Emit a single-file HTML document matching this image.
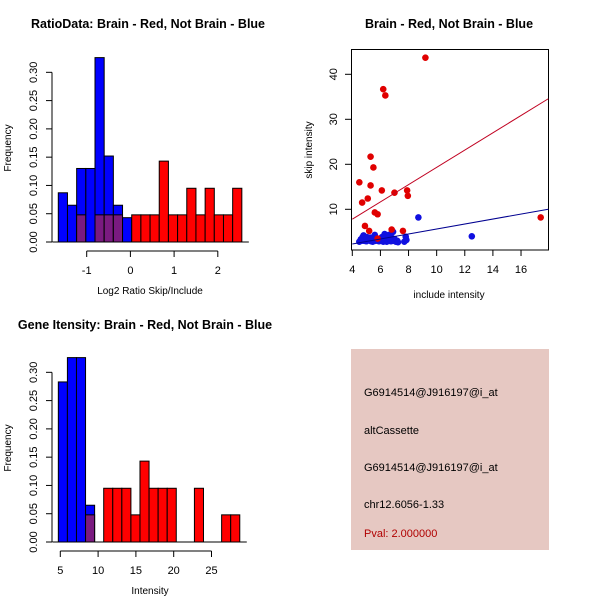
<!DOCTYPE html>
<html><head><meta charset="utf-8"><style>
body{margin:0;background:#fff;}
svg text{font-family:"Liberation Sans",sans-serif;}
</style></head><body>
<svg id="s" width="600" height="600" xmlns="http://www.w3.org/2000/svg">
<rect x="351" y="349" width="198" height="201" fill="#e6c8c2"/>
<text x="364" y="396" font-size="11">G6914514@J916197@i_at</text>
<text x="364" y="434" font-size="11">altCassette</text>
<text x="364" y="471" font-size="11">G6914514@J916197@i_at</text>
<text x="364" y="508" font-size="11">chr12.6056-1.33</text>
<text x="364" y="537" font-size="11" fill="#b00000">Pval: 2.000000</text>
</svg>
<script>
// Ratio histogram
const ratioBinStart=-1.65, ratioBinWidth=0.21;
const ratioBlue=[0.087,0.065,0.13,0.13,0.326,0.152,0.065,0.043,0,0,0,0,0,0,0,0,0,0,0,0];
const ratioRed=[0,0,0.048,0,0.048,0.048,0.048,0,0.048,0.048,0.048,0.143,0.048,0.048,0.095,0.048,0.095,0.048,0.048,0.095];
const ratioTicks=[-1,0,1,2];
// Intensity histogram
const intBinStart=4.74, intBinWidth=1.2;
const intBlue=[0.283,0.326,0.326,0.065,0,0,0,0,0,0,0,0,0,0,0,0,0,0,0,0];
const intRed=[0,0,0,0.048,0,0.095,0.095,0.095,0.048,0.143,0.095,0.095,0.095,0,0,0.095,0,0,0.048,0.048];
const intTicks=[5,10,15,20,25];
const freqTicks=[0,0.05,0.10,0.15,0.20,0.25,0.30];
// Scatter
const redX=[9.2,6.2,6.35,5.3,5.5,4.5,5.3,6.1,7,7.9,7.95,5.1,4.7,5.6,5.8,4.9,5.2,6.8,7.6,5.8,17.4];
const redY=[43.7,36.7,35.3,21.7,19.3,16,15.3,14.2,13.7,14.2,13,12.4,11.5,9.3,8.9,6.3,5.2,5.5,5.2,3.5,8.2];
const blueX=[4.5,4.6,4.7,4.8,4.85,4.9,5.0,5.1,5.2,5.3,5.4,5.5,5.6,5.65,5.7,5.9,6.0,6.1,6.2,6.25,6.3,6.35,6.4,6.5,6.6,6.7,6.8,6.9,7.0,7.1,7.2,7.7,7.8,7.85,8.7,12.5,4.75,5.35,6.45,6.95,4.65,5.05,5.45,5.75,6.15,6.55,6.75,7.25];
const blueY=[2.8,3.3,3.6,4.2,3.0,3.5,2.9,3.4,3.1,3.7,3.2,3.5,4.3,3.0,3.6,2.9,3.3,3.8,2.8,3.1,4.5,3.4,4.0,3.2,4.3,3.0,3.7,5.0,3.4,2.8,3.0,2.8,3.9,3.2,8.2,4.0,3.9,2.9,2.8,3.0,3.0,3.8,2.8,3.4,3.0,3.6,2.9,2.7];
const redFit=[0.12,1.92], blueFit=[0.08,0.554];
const scX=[4,6,8,10,12,14,16], scY=[10,20,30,40];

const s=document.getElementById('s'), NS='http://www.w3.org/2000/svg';
function mk(t,a,txt){const e=document.createElementNS(NS,t);for(const k in a)e.setAttribute(k,a[k]);if(txt!==undefined)e.textContent=txt;s.appendChild(e);return e;}

function hist(o){
  const fx=v=>o.x0+(v-o.v0)*o.k, fy=f=>o.y0-f*565.6;
  mk('text',{x:o.tx,y:o.ty,'font-size':12.5,'font-weight':'bold','text-anchor':'middle'},o.title);
  for(let i=0;i<o.blue.length;i++){
    const a=fx(o.bs+i*o.bw), w=o.bw*o.k;
    const b=o.blue[i], r=o.red[i];
    if(b>0){const e=mk('rect',{x:a,y:fy(b),width:w,height:b*565.6,fill:'#0000ff',stroke:'#000','stroke-width':1});
      }
    if(r>0){const e=mk('rect',{x:a,y:fy(r),width:w,height:r*565.6,fill:b>0?'#7a1a80':'#ff0000',stroke:'#000','stroke-width':1});
      }
  }
  const n=o.blue.length;
  mk('line',{x1:fx(o.bs)-6,x2:fx(o.bs+n*o.bw)+7,y1:o.y0,y2:o.y0,stroke:'#000'});
  mk('line',{x1:52,x2:52,y1:o.y0,y2:fy(0.30),stroke:'#000'});
  freqTicks.forEach(t=>{mk('line',{x1:46,x2:52,y1:fy(t),y2:fy(t),stroke:'#000'});
    const e=mk('text',{x:0,y:0,'font-size':11,'text-anchor':'middle',transform:`translate(37,${fy(t)}) rotate(-90)`},t.toFixed(2));});
  const ya=o.y0+9;
  mk('line',{x1:fx(o.ticks[0]),x2:fx(o.ticks[o.ticks.length-1]),y1:ya,y2:ya,stroke:'#000'});
  o.ticks.forEach(t=>{mk('line',{x1:fx(t),x2:fx(t),y1:ya,y2:ya+6,stroke:'#000'});
    const e=mk('text',{x:fx(t),y:ya+23,'font-size':11,'text-anchor':'middle'},t);});
  mk('text',{x:0,y:0,'font-size':10,'text-anchor':'middle',transform:`translate(11,${o.y0-94}) rotate(-90)`},'Frequency');
  mk('text',{x:o.xlx,y:o.y0+52,'font-size':10,'text-anchor':'middle'},o.xl);
}
hist({p:'ratio',title:'RatioData: Brain - Red, Not Brain - Blue',tx:148,ty:28,x0:86.7,v0:-1,k:43.7,y0:242,
  blue:ratioBlue,red:ratioRed,bs:ratioBinStart,bw:ratioBinWidth,ticks:ratioTicks,xl:'Log2 Ratio Skip/Include',xlx:150});
hist({p:'intensity',title:'Gene Itensity: Brain - Red, Not Brain - Blue',tx:145,ty:329,x0:60.3,v0:5,k:7.56,y0:542,
  blue:intBlue,red:intRed,bs:intBinStart,bw:intBinWidth,ticks:intTicks,xl:'Intensity',xlx:150});

// scatter
const X=v=>352.3+(v-4)*14.06, Y=v=>254.3-v*4.5;
mk('text',{x:449,y:28,'font-size':12.5,'font-weight':'bold','text-anchor':'middle'},'Brain - Red, Not Brain - Blue');
mk('rect',{x:351.5,y:49.5,width:197,height:200.5,fill:'none',stroke:'#000'});
scX.forEach(t=>{mk('line',{x1:X(t),x2:X(t),y1:250,y2:256,stroke:'#000'});
  const e=mk('text',{x:X(t),y:273,'font-size':11,'text-anchor':'middle'},t);});
scY.forEach(t=>{mk('line',{x1:345,x2:351.5,y1:Y(t),y2:Y(t),stroke:'#000'});
  const e=mk('text',{x:0,y:0,'font-size':11,'text-anchor':'middle',transform:`translate(337,${Y(t)}) rotate(-90)`},t);});
mk('text',{x:449,y:298,'font-size':10,'text-anchor':'middle'},'include intensity');
mk('text',{x:0,y:0,'font-size':10,'text-anchor':'middle',transform:'translate(312,150) rotate(-90)'},'skip intensity');
for(let i=0;i<blueX.length;i++){const c=mk('circle',{cx:X(blueX[i]),cy:Y(blueY[i]),r:3.3,fill:'#1010e0'});
  }
for(let i=0;i<redX.length;i++){const c=mk('circle',{cx:X(redX[i]),cy:Y(redY[i]),r:3.3,fill:'#e00000'});
  }
const xe=4+(548.3-352.3)/14.06;
mk('line',{x1:X(4),x2:X(xe),y1:Y(redFit[0]+redFit[1]*4),y2:Y(redFit[0]+redFit[1]*xe),stroke:'#c00020'});
mk('line',{x1:X(4),x2:X(xe),y1:Y(blueFit[0]+blueFit[1]*4),y2:Y(blueFit[0]+blueFit[1]*xe),stroke:'#000090'});
</script>
</body></html>
